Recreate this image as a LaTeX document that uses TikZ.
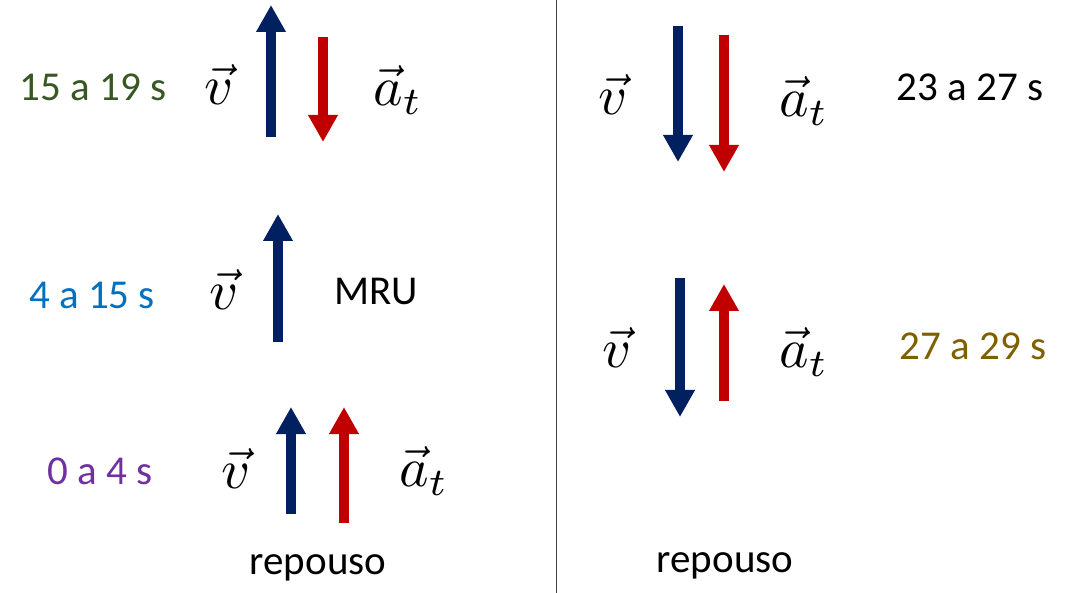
\documentclass[tikz,border=0pt]{standalone}
\usepackage{graphicx}
\usepackage{fontspec}
\setmainfont{Carlito}
\usetikzlibrary{arrows.meta}
\definecolor{navy}{HTML}{002060}
\definecolor{dred}{HTML}{C00000}
\definecolor{tgreen}{HTML}{385723}
\definecolor{tblue}{HTML}{0070C0}
\definecolor{tpurple}{HTML}{7030A0}
\definecolor{tgold}{HTML}{7F6000}
\newcommand{\bigvec}[1]{\scalebox{5.6}{$#1$}}
\tikzset{
  vecarrow/.style={line width=10pt,-{Triangle[width=28pt,length=27pt]}},
  varrow/.style={vecarrow,draw=navy,color=navy},
  aarrow/.style={vecarrow,draw=dred,color=dred},
  lbl/.style={font=\fontsize{41}{49}\selectfont,inner sep=0pt},
  mth/.style={inner sep=0pt}
}
\begin{document}
\begin{tikzpicture}[x=1pt,y=-1pt]
\useasboundingbox (0,0) rectangle (1071,593);
\fill[white] (0,0) rectangle (1071,593);
% divider
\coordinate (d1) at (556,0);
\coordinate (d2) at (556,593);
\draw[line width=1pt,black!75] (d1) -- (d2);

% ---- left, 15 a 19 s
\node[lbl,text=tgreen] (t1) at (93,87) {15 a 19 s};
\node[mth] (v1) at (219,84) {\bigvec{\vec{v}}};
\node[mth] (a1) at (398,90) {\bigvec{\vec{a}_t}};
\coordinate (b1s) at (271,137); \coordinate (b1e) at (271,5);
\coordinate (r1s) at (323,37); \coordinate (r1e) at (323,142);
\draw[varrow] (b1s) -- (b1e);
\draw[aarrow] (r1s) -- (r1e);

% ---- left, 4 a 15 s
\node[lbl,text=tblue] (t2) at (92,295) {4 a 15 s};
\node[mth] (v2) at (224,289) {\bigvec{\vec{v}}};
\node[lbl] (mru) at (376,291) {MRU};
\coordinate (b2s) at (278,342); \coordinate (b2e) at (278,214);
\draw[varrow] (b2s) -- (b2e);

% ---- left, 0 a 4 s
\node[lbl,text=tpurple] (t3) at (100,471) {0 a 4 s};
\node[mth] (v3) at (236,468) {\bigvec{\vec{v}}};
\node[mth] (a3) at (424,471) {\bigvec{\vec{a}_t}};
\coordinate (b3s) at (291,514); \coordinate (b3e) at (291,407);
\coordinate (r3s) at (344,523); \coordinate (r3e) at (344,407);
\draw[varrow] (b3s) -- (b3e);
\draw[aarrow] (r3s) -- (r3e);
\node[lbl] (rep1) at (318,568) {repouso};

% ---- right, 23 a 27 s
\node[lbl] (t4) at (970,87) {23 a 27 s};
\node[mth] (v4) at (613,94) {\bigvec{\vec{v}}};
\node[mth] (a4) at (804,101) {\bigvec{\vec{a}_t}};
\coordinate (b4s) at (678,26); \coordinate (b4e) at (678,162);
\coordinate (r4s) at (724,35); \coordinate (r4e) at (724,172);
\draw[varrow] (b4s) -- (b4e);
\draw[aarrow] (r4s) -- (r4e);

% ---- right, 27 a 29 s
\node[lbl,text=tgold] (t5) at (973,346) {27 a 29 s};
\node[mth] (v5) at (617,347) {\bigvec{\vec{v}}};
\node[mth] (a5) at (804,352) {\bigvec{\vec{a}_t}};
\coordinate (b5s) at (680,278); \coordinate (b5e) at (680,417);
\coordinate (r5s) at (724,401); \coordinate (r5e) at (724,284);
\draw[varrow] (b5s) -- (b5e);
\draw[aarrow] (r5s) -- (r5e);
\node[lbl] (rep2) at (725,566) {repouso};
\end{tikzpicture}
\end{document}
